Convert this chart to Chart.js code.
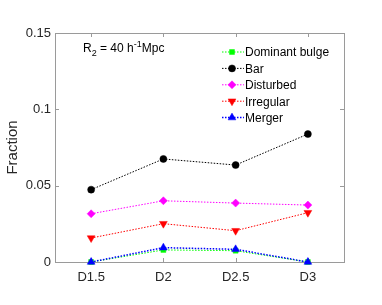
<!DOCTYPE html>
<html>
<head>
<meta charset="utf-8">
<script src="https://cdn.jsdelivr.net/npm/chart.js@4/dist/chart.umd.min.js"></script>
<style>
  html, body { margin: 0; padding: 0; background: #fff; }
  #wrap { width: 382px; height: 305px; }
</style>
</head>
<body>
<div id="wrap"><canvas id="chart" width="382" height="305"></canvas></div>
<script>
// Données
const categories = ["D1.5", "D2", "D2.5", "D3"];
const dominantBulge = [0, 0.0079, 0.0074, 0];
const bar = [0.0474, 0.0675, 0.0635, 0.0838];
const disturbed = [0.0316, 0.0401, 0.0386, 0.0373];
const irregular = [0.0157, 0.0251, 0.0205, 0.0323];
const merger = [0, 0.0094, 0.0083, 0];
const yTicks = [0, 0.05, 0.1, 0.15];

const FONT = "'Liberation Sans', Arial, Helvetica, sans-serif";
const AXIS = "#9a9a9a";
const TEXT = "#262626";

function serie(label, data, color, style, radius, rotation, order, width) {
  return {
    label: label,
    data: data,
    borderColor: color,
    backgroundColor: color,
    borderWidth: width || 1,
    borderDash: [1.5, 1.5],
    pointStyle: style,
    pointRadius: radius,
    pointHoverRadius: radius,
    pointRotation: rotation,
    pointBorderWidth: 0.5,
    tension: 0,
    clip: false,
    order: order,
  };
}

// Dessiner une marque de légende
function marker(ctx, ds, x, y) {
  Chart.helpers.drawPoint(ctx, {
    pointStyle: ds.pointStyle,
    radius: ds.pointRadius,
    rotation: ds.pointRotation,
    borderWidth: 0.5,
  }, x, y);
}

// Cadre et graduations vers l'intérieur
const boxPlugin = {
  id: "box",
  beforeDatasetsDraw(chart) {
    const { ctx, chartArea: a, scales } = chart;
    ctx.save();
    ctx.strokeStyle = AXIS;
    ctx.lineWidth = 1;
    ctx.strokeRect(a.left + 0.5, a.top + 0.5, a.right - a.left, a.bottom - a.top);
    ctx.beginPath();
    scales.y.ticks.forEach((t) => {
      const py = Math.round(scales.y.getPixelForValue(t.value)) + 0.5;
      ctx.moveTo(a.left, py); ctx.lineTo(a.left + 4, py);
      ctx.moveTo(a.right, py); ctx.lineTo(a.right - 4, py);
    });
    categories.forEach((c, i) => {
      const px = Math.round(scales.x.getPixelForValue(i)) + 0.5;
      ctx.moveTo(px, a.bottom); ctx.lineTo(px, a.bottom - 4);
      ctx.moveTo(px, a.top); ctx.lineTo(px, a.top + 4);
    });
    ctx.stroke();
    ctx.restore();
  },
  afterDatasetsDraw(chart) {
    const { ctx, chartArea: a } = chart;
    ctx.save();

    // annotation R2 = 40 h-1 Mpc
    ctx.fillStyle = "#000";
    ctx.textBaseline = "alphabetic";
    let x = a.left + 28, y = a.top + 19;
    ctx.font = "12px " + FONT;
    ctx.fillText("R", x, y); x += ctx.measureText("R").width;
    ctx.font = "9px " + FONT;
    ctx.fillText("2", x, y + 4); x += ctx.measureText("2").width;
    ctx.font = "12px " + FONT;
    ctx.fillText(" = 40 h", x, y); x += ctx.measureText(" = 40 h").width;
    ctx.font = "9px " + FONT;
    ctx.fillText("-1", x, y - 5); x += ctx.measureText("-1").width;
    ctx.font = "12px " + FONT;
    ctx.fillText("Mpc", x, y);

    // légende
    chart.data.datasets.forEach((ds, i) => {
      const ly = a.top + 19 + i * 16.4;
      const lx = a.right - 122;
      ctx.strokeStyle = ds.borderColor;
      ctx.lineWidth = ds.borderWidth;
      ctx.setLineDash([1.5, 1.5]);
      ctx.beginPath();
      ctx.moveTo(lx, ly); ctx.lineTo(lx + 22, ly);
      ctx.stroke();
      ctx.setLineDash([]);
      ctx.fillStyle = ds.backgroundColor;
      ctx.strokeStyle = ds.borderColor;
      ctx.lineWidth = 0.5;
      marker(ctx, ds, lx + 10, ly);
      ctx.fillStyle = "#000";
      ctx.font = "12px " + FONT;
      ctx.textBaseline = "middle";
      ctx.fillText(ds.label, lx + 23, ly + 1);
    });
    ctx.restore();
  },
};

new Chart(document.getElementById("chart"), {
  type: "line",
  data: {
    labels: categories,
    datasets: [
      serie("Dominant bulge", dominantBulge, "#00ff00", "rect", 3.5, 0, 4),
      serie("Bar", bar, "#000000", "circle", 3.5, 0, 3),
      serie("Disturbed", disturbed, "#ff00ff", "rectRot", 4, 0, 2),
      serie("Irregular", irregular, "#ff0000", "triangle", 4.5, 180, 1),
      serie("Merger", merger, "#0000ff", "triangle", 4.5, 0, 0, 1.5),
    ],
  },
  options: {
    responsive: false,
    animation: false,
    events: [],
    layout: { padding: { left: 0, right: 38, top: 33, bottom: 0 } },
    plugins: { legend: { display: false }, tooltip: { enabled: false } },
    scales: {
      x: {
        type: "category",
        offset: true,
        grid: { display: false, drawTicks: false },
        border: { display: false },
        ticks: { color: TEXT, font: { family: FONT, size: 13 }, padding: 8 },
        afterFit(scale) { scale.height = 43; },
      },
      y: {
        min: 0,
        max: 0.15,
        grid: { display: false, drawTicks: false },
        border: { display: false },
        afterBuildTicks(scale) { scale.ticks = yTicks.map((v) => ({ value: v })); },
        ticks: {
          color: TEXT,
          font: { family: FONT, size: 13 },
          padding: 4,
          callback: (v) => String(+Number(v).toFixed(2)),
        },
        title: {
          display: true,
          text: "Fraction",
          color: TEXT,
          font: { family: FONT, size: 15 },
          padding: { top: 4, bottom: 0 },
        },
        afterFit(scale) { scale.width = 55; },
      },
    },
  },
  plugins: [boxPlugin],
});
</script>
</body>
</html>
